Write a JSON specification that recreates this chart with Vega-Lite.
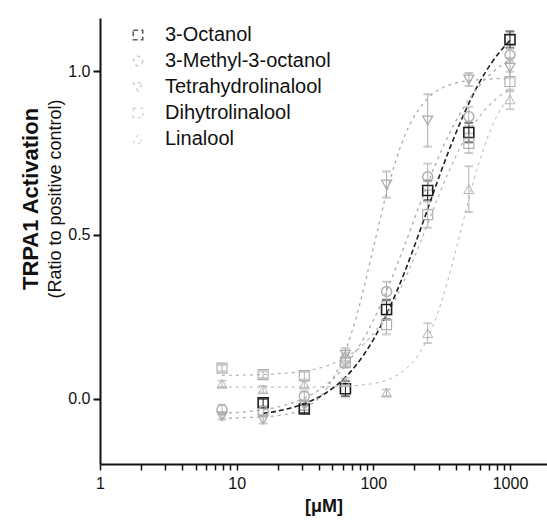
{
  "$schema": "https://vega.github.io/schema/vega-lite/v6.json",
  "width": 447,
  "height": 446,
  "autosize": {"type": "none"},
  "padding": {"left": 100, "top": 18, "right": 0, "bottom": 60},
  "background": "white",
  "config": {
    "view": {"stroke": null},
    "font": "Liberation Sans",
    "mark": {"color": "#ffffff"},
    "legend": {"symbolBaseFillColor": "#ffffff", "symbolFillColor": "#ffffff"},
    "axis": {"domainColor": "#111", "tickColor": "#111", "labelColor": "#111", "titleColor": "#111", "grid": false}
  },
  "title": {
    "text": "TRPA1 Activation",
    "subtitle": "(Ratio to positive control)",
    "orient": "left",
    "anchor": "middle",
    "font": "Liberation Sans",
    "fontSize": 22,
    "fontWeight": "bold",
    "color": "#111",
    "subtitleFont": "Liberation Sans",
    "subtitleFontSize": 18,
    "subtitleColor": "#111",
    "subtitlePadding": 4,
    "offset": 2,
    "dx": 42
  },
  "datasets": {
    "curves": [
      {"compound": "3-Octanol", "conc": 15.6, "value": -0.045},
      {"compound": "3-Octanol", "conc": 20, "value": -0.038},
      {"compound": "3-Octanol", "conc": 30, "value": -0.018},
      {"compound": "3-Octanol", "conc": 45, "value": 0.017},
      {"compound": "3-Octanol", "conc": 60, "value": 0.058},
      {"compound": "3-Octanol", "conc": 80, "value": 0.118},
      {"compound": "3-Octanol", "conc": 100, "value": 0.18},
      {"compound": "3-Octanol", "conc": 130, "value": 0.273},
      {"compound": "3-Octanol", "conc": 170, "value": 0.388},
      {"compound": "3-Octanol", "conc": 220, "value": 0.514},
      {"compound": "3-Octanol", "conc": 280, "value": 0.638},
      {"compound": "3-Octanol", "conc": 350, "value": 0.748},
      {"compound": "3-Octanol", "conc": 450, "value": 0.86},
      {"compound": "3-Octanol", "conc": 570, "value": 0.95},
      {"compound": "3-Octanol", "conc": 750, "value": 1.032},
      {"compound": "3-Octanol", "conc": 1000, "value": 1.095},

      {"compound": "3-Methyl-3-octanol", "conc": 7.8, "value": -0.045},
      {"compound": "3-Methyl-3-octanol", "conc": 12, "value": -0.04},
      {"compound": "3-Methyl-3-octanol", "conc": 20, "value": -0.026},
      {"compound": "3-Methyl-3-octanol", "conc": 30, "value": -0.002},
      {"compound": "3-Methyl-3-octanol", "conc": 45, "value": 0.041},
      {"compound": "3-Methyl-3-octanol", "conc": 60, "value": 0.092},
      {"compound": "3-Methyl-3-octanol", "conc": 80, "value": 0.165},
      {"compound": "3-Methyl-3-octanol", "conc": 100, "value": 0.239},
      {"compound": "3-Methyl-3-octanol", "conc": 130, "value": 0.346},
      {"compound": "3-Methyl-3-octanol", "conc": 170, "value": 0.47},
      {"compound": "3-Methyl-3-octanol", "conc": 220, "value": 0.595},
      {"compound": "3-Methyl-3-octanol", "conc": 280, "value": 0.708},
      {"compound": "3-Methyl-3-octanol", "conc": 350, "value": 0.799},
      {"compound": "3-Methyl-3-octanol", "conc": 450, "value": 0.884},
      {"compound": "3-Methyl-3-octanol", "conc": 570, "value": 0.946},
      {"compound": "3-Methyl-3-octanol", "conc": 750, "value": 0.998},
      {"compound": "3-Methyl-3-octanol", "conc": 1000, "value": 1.035},

      {"compound": "Tetrahydrolinalool", "conc": 7.8, "value": -0.06},
      {"compound": "Tetrahydrolinalool", "conc": 12, "value": -0.058},
      {"compound": "Tetrahydrolinalool", "conc": 20, "value": -0.052},
      {"compound": "Tetrahydrolinalool", "conc": 30, "value": -0.033},
      {"compound": "Tetrahydrolinalool", "conc": 45, "value": 0.027},
      {"compound": "Tetrahydrolinalool", "conc": 60, "value": 0.125},
      {"compound": "Tetrahydrolinalool", "conc": 80, "value": 0.292},
      {"compound": "Tetrahydrolinalool", "conc": 100, "value": 0.46},
      {"compound": "Tetrahydrolinalool", "conc": 130, "value": 0.655},
      {"compound": "Tetrahydrolinalool", "conc": 170, "value": 0.804},
      {"compound": "Tetrahydrolinalool", "conc": 220, "value": 0.89},
      {"compound": "Tetrahydrolinalool", "conc": 280, "value": 0.935},
      {"compound": "Tetrahydrolinalool", "conc": 350, "value": 0.956},
      {"compound": "Tetrahydrolinalool", "conc": 450, "value": 0.969},
      {"compound": "Tetrahydrolinalool", "conc": 570, "value": 0.974},
      {"compound": "Tetrahydrolinalool", "conc": 750, "value": 0.977},
      {"compound": "Tetrahydrolinalool", "conc": 1000, "value": 0.979},

      {"compound": "Dihytrolinalool", "conc": 7.8, "value": 0.071},
      {"compound": "Dihytrolinalool", "conc": 12, "value": 0.072},
      {"compound": "Dihytrolinalool", "conc": 20, "value": 0.076},
      {"compound": "Dihytrolinalool", "conc": 30, "value": 0.083},
      {"compound": "Dihytrolinalool", "conc": 45, "value": 0.099},
      {"compound": "Dihytrolinalool", "conc": 60, "value": 0.121},
      {"compound": "Dihytrolinalool", "conc": 80, "value": 0.156},
      {"compound": "Dihytrolinalool", "conc": 100, "value": 0.198},
      {"compound": "Dihytrolinalool", "conc": 130, "value": 0.268},
      {"compound": "Dihytrolinalool", "conc": 170, "value": 0.364},
      {"compound": "Dihytrolinalool", "conc": 220, "value": 0.475},
      {"compound": "Dihytrolinalool", "conc": 280, "value": 0.587},
      {"compound": "Dihytrolinalool", "conc": 350, "value": 0.686},
      {"compound": "Dihytrolinalool", "conc": 450, "value": 0.781},
      {"compound": "Dihytrolinalool", "conc": 570, "value": 0.85},
      {"compound": "Dihytrolinalool", "conc": 750, "value": 0.907},
      {"compound": "Dihytrolinalool", "conc": 1000, "value": 0.945},

      {"compound": "Linalool", "conc": 7.8, "value": 0.035},
      {"compound": "Linalool", "conc": 12, "value": 0.035},
      {"compound": "Linalool", "conc": 20, "value": 0.035},
      {"compound": "Linalool", "conc": 30, "value": 0.035},
      {"compound": "Linalool", "conc": 45, "value": 0.036},
      {"compound": "Linalool", "conc": 60, "value": 0.037},
      {"compound": "Linalool", "conc": 80, "value": 0.041},
      {"compound": "Linalool", "conc": 100, "value": 0.046},
      {"compound": "Linalool", "conc": 130, "value": 0.059},
      {"compound": "Linalool", "conc": 170, "value": 0.088},
      {"compound": "Linalool", "conc": 220, "value": 0.142},
      {"compound": "Linalool", "conc": 280, "value": 0.233},
      {"compound": "Linalool", "conc": 350, "value": 0.359},
      {"compound": "Linalool", "conc": 450, "value": 0.534},
      {"compound": "Linalool", "conc": 570, "value": 0.697},
      {"compound": "Linalool", "conc": 750, "value": 0.838},
      {"compound": "Linalool", "conc": 1000, "value": 0.925}
    ],
    "points": [
      {"compound": "3-Octanol", "conc": 15.625, "value": -0.013, "err": 0.012},
      {"compound": "3-Octanol", "conc": 31.25, "value": -0.032, "err": 0.012},
      {"compound": "3-Octanol", "conc": 62.5, "value": 0.03, "err": 0.023},
      {"compound": "3-Octanol", "conc": 125, "value": 0.272, "err": 0.03},
      {"compound": "3-Octanol", "conc": 250, "value": 0.636, "err": 0.03},
      {"compound": "3-Octanol", "conc": 500, "value": 0.813, "err": 0.03},
      {"compound": "3-Octanol", "conc": 1000, "value": 1.097, "err": 0.025},

      {"compound": "3-Methyl-3-octanol", "conc": 7.8125, "value": -0.034, "err": 0.015},
      {"compound": "3-Methyl-3-octanol", "conc": 15.625, "value": -0.04, "err": 0.015},
      {"compound": "3-Methyl-3-octanol", "conc": 31.25, "value": 0.007, "err": 0.015},
      {"compound": "3-Methyl-3-octanol", "conc": 62.5, "value": 0.12, "err": 0.02},
      {"compound": "3-Methyl-3-octanol", "conc": 125, "value": 0.327, "err": 0.03},
      {"compound": "3-Methyl-3-octanol", "conc": 250, "value": 0.678, "err": 0.04},
      {"compound": "3-Methyl-3-octanol", "conc": 500, "value": 0.862, "err": 0.03},
      {"compound": "3-Methyl-3-octanol", "conc": 1000, "value": 1.05, "err": 0.02},

      {"compound": "Tetrahydrolinalool", "conc": 7.8125, "value": -0.054, "err": 0.01},
      {"compound": "Tetrahydrolinalool", "conc": 15.625, "value": -0.064, "err": 0.012},
      {"compound": "Tetrahydrolinalool", "conc": 31.25, "value": -0.02, "err": 0.015},
      {"compound": "Tetrahydrolinalool", "conc": 62.5, "value": 0.134, "err": 0.02},
      {"compound": "Tetrahydrolinalool", "conc": 125, "value": 0.654, "err": 0.04},
      {"compound": "Tetrahydrolinalool", "conc": 250, "value": 0.85, "err": 0.08},
      {"compound": "Tetrahydrolinalool", "conc": 500, "value": 0.975, "err": 0.02},
      {"compound": "Tetrahydrolinalool", "conc": 1000, "value": 1.011, "err": 0.03},

      {"compound": "Dihytrolinalool", "conc": 7.8125, "value": 0.093, "err": 0.01},
      {"compound": "Dihytrolinalool", "conc": 15.625, "value": 0.073, "err": 0.01},
      {"compound": "Dihytrolinalool", "conc": 31.25, "value": 0.07, "err": 0.012},
      {"compound": "Dihytrolinalool", "conc": 62.5, "value": 0.11, "err": 0.015},
      {"compound": "Dihytrolinalool", "conc": 125, "value": 0.226, "err": 0.03},
      {"compound": "Dihytrolinalool", "conc": 250, "value": 0.562, "err": 0.04},
      {"compound": "Dihytrolinalool", "conc": 500, "value": 0.78, "err": 0.03},
      {"compound": "Dihytrolinalool", "conc": 1000, "value": 0.969, "err": 0.03},

      {"compound": "Linalool", "conc": 7.8125, "value": 0.045, "err": 0.01},
      {"compound": "Linalool", "conc": 15.625, "value": 0.028, "err": 0.01},
      {"compound": "Linalool", "conc": 31.25, "value": 0.043, "err": 0.01},
      {"compound": "Linalool", "conc": 62.5, "value": 0.05, "err": 0.012},
      {"compound": "Linalool", "conc": 125, "value": 0.018, "err": 0.01},
      {"compound": "Linalool", "conc": 250, "value": 0.2, "err": 0.03},
      {"compound": "Linalool", "conc": 500, "value": 0.64, "err": 0.07},
      {"compound": "Linalool", "conc": 1000, "value": 0.914, "err": 0.03}
    ]
  },
  "layer": [
    {
      "data": {"name": "curves"},
      "mark": {"type": "line", "interpolate": "monotone", "clip": true},
      "encoding": {
        "x": {"field": "conc", "type": "quantitative", "scale": {"type": "log", "domain": [1, 1866], "nice": false},
          "axis": {
            "values": [1,2,3,4,5,6,7,8,9,10,20,30,40,50,60,70,80,90,100,200,300,400,500,600,700,800,900,1000],
            "labelExpr": "indexof([1,10,100,1000], datum.value) >= 0 ? datum.label : ''",
            "format": "d",
            "labelFontSize": 16,
            "labelFlush": false,
            "labelOverlap": false,
            "labelPadding": 5,
            "tickSize": 6,
            "tickWidth": 1.5,
            "domainWidth": 2,
            "title": "[μM]",
            "titleFontSize": 18,
            "titleFontWeight": "bold",
            "titlePadding": 6
          }},
        "y": {"field": "value", "type": "quantitative", "scale": {"domain": [-0.2, 1.163], "nice": false, "zero": false},
          "axis": {
            "values": [0, 0.5, 1.0],
            "format": ".1f",
            "labelFontSize": 16,
            "labelPadding": 3,
            "tickSize": 7,
            "tickWidth": 2,
            "domainWidth": 2,
            "title": null
          }},
        "stroke": {"field": "compound", "type": "nominal",
          "scale": {"domain": ["3-Octanol", "3-Methyl-3-octanol", "Tetrahydrolinalool", "Dihytrolinalool", "Linalool"],
                    "range": ["#1e1e1e", "#b0b0b0", "#acacac", "#b0b0b0", "#b4b4b4"]}},
        "strokeDash": {"field": "compound", "type": "nominal",
          "scale": {"domain": ["3-Octanol", "3-Methyl-3-octanol", "Tetrahydrolinalool", "Dihytrolinalool", "Linalool"],
                    "range": [[5, 3], [3, 4], [3, 4], [3, 4], [3, 4]]}, "legend": null},
        "strokeWidth": {"field": "compound", "type": "nominal",
          "scale": {"domain": ["3-Octanol", "3-Methyl-3-octanol", "Tetrahydrolinalool", "Dihytrolinalool", "Linalool"],
                    "range": [1.6, 1, 1, 1, 1]}, "legend": null}
      }
    },
    {
      "data": {"name": "points"},
      "mark": {"type": "errorbar", "ticks": {"size": 8}, "thickness": 1},
      "encoding": {
        "x": {"field": "conc", "type": "quantitative"},
        "y": {"field": "value", "type": "quantitative"},
        "yError": {"field": "err"},
        "stroke": {"field": "compound", "type": "nominal"}
      }
    },
    {
      "data": {"name": "points"},
      "mark": {"type": "point", "filled": false, "opacity": 1},
      "encoding": {
        "x": {"field": "conc", "type": "quantitative"},
        "y": {"field": "value", "type": "quantitative"},
        "stroke": {"field": "compound", "type": "nominal",
          "legend": {
            "orient": "none",
            "legendX": 28,
            "legendY": 7,
            "title": null,
            "labelFontSize": 20,
            "labelColor": "#111",
            "labelLimit": 400,
            "labelOffset": 17,
            "rowPadding": 6,
            "symbolSize": 90,
            "symbolStrokeWidth": 1.5
          }},
        "shape": {"field": "compound", "type": "nominal",
          "scale": {"domain": ["3-Octanol", "3-Methyl-3-octanol", "Tetrahydrolinalool", "Dihytrolinalool", "Linalool"],
                    "range": ["square", "circle", "triangle-down", "square", "triangle-up"]}},
        "size": {"value": 100},
        "strokeWidth": {"field": "compound", "type": "nominal", "legend": null}
      }
    }
  ]
}
